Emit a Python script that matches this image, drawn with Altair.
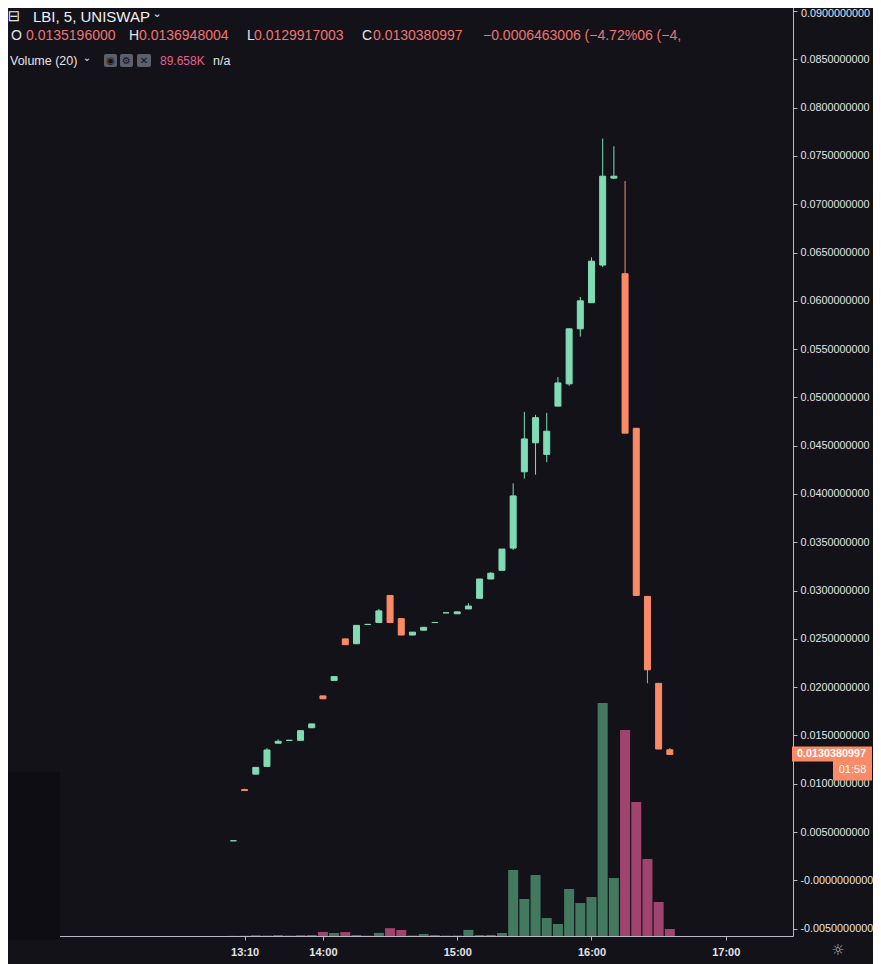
import altair as alt
import pandas as pd

# ---------------- data ----------------
bar_index = list(range(-8, 32))   # 5-minute bar index, 0 = 14:00
opens = [0.0041, 0.0094, 0.0110, 0.0118, 0.0142, 0.0145, 0.0145, 0.0158,
         0.0191, 0.0207, 0.0250, 0.0245, 0.0265, 0.0267, 0.0295, 0.0271,
         0.0254, 0.0259, 0.0267, 0.0277, 0.0276, 0.0281, 0.0292, 0.0312,
         0.0321, 0.0344, 0.0423, 0.0453, 0.0441, 0.0491, 0.0514, 0.0571,
         0.0598, 0.0637, 0.0727, 0.0628, 0.0468, 0.0294, 0.0204, 0.0135196000]
highs = [0.0041, 0.0095, 0.0117, 0.0137, 0.0146, 0.0145, 0.0155, 0.0162,
         0.0191, 0.0211, 0.0250, 0.0264, 0.0265, 0.0281, 0.0295, 0.0271,
         0.0257, 0.0262, 0.0267, 0.0277, 0.0278, 0.0287, 0.0312, 0.0319,
         0.0343, 0.0411, 0.0485, 0.0482, 0.0484, 0.0521, 0.0571, 0.0604,
         0.0645, 0.0768, 0.0760, 0.0724, 0.0468, 0.0294, 0.0204, 0.0136948004]
lows = [0.0041, 0.0093, 0.0110, 0.0118, 0.0142, 0.0145, 0.0145, 0.0158,
        0.0188, 0.0207, 0.0244, 0.0245, 0.0265, 0.0267, 0.0267, 0.0254,
        0.0254, 0.0259, 0.0267, 0.0277, 0.0276, 0.0281, 0.0292, 0.0312,
        0.0321, 0.0342, 0.0416, 0.0420, 0.0433, 0.0491, 0.0512, 0.0563,
        0.0598, 0.0635, 0.0726, 0.0463, 0.0295, 0.0204, 0.0136, 0.0129917003]
closes = [0.0041, 0.0093, 0.0117, 0.0135, 0.0144, 0.0145, 0.0155, 0.0162,
          0.0188, 0.0211, 0.0244, 0.0264, 0.0265, 0.0279, 0.0267, 0.0254,
          0.0257, 0.0262, 0.0267, 0.0277, 0.0278, 0.0284, 0.0312, 0.0318,
          0.0343, 0.0398, 0.0457, 0.0479, 0.0465, 0.0515, 0.0571, 0.0600,
          0.0641, 0.0729, 0.0729, 0.0463, 0.0295, 0.0218, 0.0136, 0.0130380997]
volumes_k = [2, 3, 10, 5, 12, 5, 11, 13,
             52, 38, 50, 12, 4, 40, 100, 77,
             6, 25, 12, 5, 6, 78, 12, 14,
             38, 845, 474, 781, 230, 154, 602, 422,
             499, 2982, 742, 2637, 1715, 986, 435, 89.658]

x_tick_idx = [-7, 0, 12, 24, 36]
x_tick_labels = ["13:10", "14:00", "15:00", "16:00", "17:00"]
y_ticks = [-0.005, 0.0, 0.005, 0.01, 0.015, 0.02, 0.025, 0.03, 0.035, 0.04,
           0.045, 0.05, 0.055, 0.06, 0.065, 0.07, 0.075, 0.08, 0.085, 0.09]
y_top_label = "0.0900000000"

# ---------------- styles ----------------
BG = "#131219"
UP = "#80dcb4"
DN = "#fb8a66"
VUP = "#437a5f"
VDN = "#a0446f"
AXIS_C = "#b8bac2"
TXT = "#e3e4e8"
HDR_VAL = "#f07272"
FONT = "Liberation Sans"

df = pd.DataFrame({"i": bar_index, "open": opens, "high": highs, "low": lows,
                   "close": closes, "vol": volumes_k})
df["dir"] = ["up" if c >= o else "down" for o, c in zip(opens, closes)]
df["vdir"] = ["v" + d for d in df["dir"]]
last = df.iloc[[-1]].copy()

label_expr = " : ".join(
    f"datum.value == {v} ? '{t}'" for v, t in zip(x_tick_idx, x_tick_labels)) + " : ''"

x_axis = alt.Axis(values=x_tick_idx, labelExpr=label_expr, title=None, grid=False,
                  domainColor=AXIS_C, tickColor=AXIS_C, tickSize=4,
                  labelColor=TXT, labelFont=FONT, labelFontSize=11,
                  labelFontWeight="bold", labelPadding=6, labelOverlap=False,
                  labelFlush=False, zindex=0)
X = alt.X("i:Q", scale=alt.Scale(domain=[-28.41, 41.56], nice=False, zero=False),
          axis=x_axis)

price_scale = alt.Scale(domain=[-0.005756, 0.091139], nice=False, zero=False)
y_axis = alt.Axis(orient="right", values=y_ticks, format=".10f",
                  labelExpr=("datum.value >= 0.0899 ? '' : datum.value <= 0 ? "
                             "'-' + format(abs(datum.value), '.10f') : datum.label"),
                  title=None, grid=False, domainColor=AXIS_C, tickColor=AXIS_C,
                  tickSize=4, labelPadding=3, labelColor=TXT, labelFont=FONT,
                  labelFontSize=10.8, labelOverlap=False, labelFlush=False, zindex=0)

cscale = alt.Scale(domain=["up", "down", "vup", "vdown"], range=[UP, DN, VUP, VDN])

vol = alt.Chart(df).mark_bar(size=10).encode(
    x=X,
    y=alt.Y("vol:Q", scale=alt.Scale(domain=[0, 11981], nice=False), axis=None),
    color=alt.Color("vdir:N", scale=cscale, legend=None),
)

wicks = alt.Chart(df).mark_rule(strokeWidth=1).encode(
    x=X,
    y=alt.Y("low:Q", scale=price_scale, axis=y_axis),
    y2="high:Q",
    color=alt.Color("dir:N", scale=cscale, legend=None),
)

bodies = alt.Chart(df).mark_bar(size=6, strokeWidth=1).encode(
    x=X,
    y=alt.Y("open:Q", scale=price_scale, axis=y_axis),
    y2="close:Q",
    color=alt.Color("dir:N", scale=cscale, legend=None),
    stroke=alt.Stroke("dir:N", scale=cscale, legend=None),
)

pbox = alt.Chart(last).mark_rect(color=DN, yOffset=-8, y2Offset=7).encode(
    x=alt.value(792), x2=alt.value(872),
    y=alt.Y("close:Q", scale=price_scale, axis=y_axis), y2="close:Q",
)
ptext = alt.Chart(last).mark_text(align="left", baseline="middle", color="#ffffff",
                                  font=FONT, fontSize=10.8, fontWeight="bold").encode(
    x=alt.value(797),
    y=alt.Y("close:Q", scale=price_scale, axis=y_axis),
    text=alt.Text("close:Q", format=".10f"),
)
tbox = alt.Chart(last).mark_rect(color=DN, yOffset=6, y2Offset=26).encode(
    x=alt.value(833), x2=alt.value(872),
    y=alt.Y("close:Q", scale=price_scale, axis=y_axis), y2="close:Q",
)
ttext = alt.Chart(last).mark_text(align="center", baseline="middle", color="#ffffff",
                                  font=FONT, fontSize=11, dy=16).encode(
    x=alt.value(852.5),
    y=alt.Y("close:Q", scale=price_scale, axis=y_axis),
    text=alt.value("01:58"),
)

price = alt.layer(wicks, bodies, pbox, ptext, tbox, ttext)


def txt(s, x, y, color=TXT, size=14, weight="normal", font=FONT, align="left"):
    return alt.Chart(pd.DataFrame({"t": [s]})).mark_text(
        align=align, baseline="middle", color=color, fontSize=size,
        fontWeight=weight, font=font).encode(text="t:N", x=alt.value(x), y=alt.value(y))


def box(x1, x2, y1, y2, color, radius=0):
    return alt.Chart(pd.DataFrame({"t": [0]})).mark_rect(
        color=color, cornerRadius=radius).encode(
        x=alt.value(x1), x2=alt.value(x2), y=alt.value(y1), y2=alt.value(y2))


shade = box(0, 60, 772, 940, "#0e0d13")

header = [
    txt("\u229f", 14, 16, TXT, 15, font="DejaVu Sans", align="center"),
    txt("LBI, 5, UNISWAP", 33, 17, "#f0f0f2", 15),
    txt("\u2304", 157, 14, TXT, 11, font="DejaVu Sans", align="center"),
    txt("O", 11, 36, TXT, 14),
    txt("0.0135196000", 26, 36, HDR_VAL, 14),
    txt("H", 129, 36, TXT, 14),
    txt("0.0136948004", 139, 36, HDR_VAL, 14),
    txt("L", 247, 36, TXT, 14),
    txt("0.0129917003", 254, 36, HDR_VAL, 14),
    txt("C", 362, 36, TXT, 14),
    txt("0.0130380997", 373, 36, HDR_VAL, 14),
    txt("\u22120.0006463006 (\u22124.72%06 (\u22124,", 483, 36, HDR_VAL, 14),
    txt("Volume (20)", 10, 61, TXT, 12.5),
    txt("\u2304", 87, 58, TXT, 10, font="DejaVu Sans", align="center"),
    box(104, 117, 54, 67, "#5d606b", 2),
    box(120, 133, 54, 67, "#5d606b", 2),
    box(137, 151, 54, 67, "#5d606b", 2),
    txt("\u25c9", 110.5, 61, BG, 10, font="DejaVu Sans", align="center"),
    txt("\u2699", 126.5, 61, BG, 10, font="DejaVu Sans", align="center"),
    txt("\u2715", 144, 61, BG, 10, font="DejaVu Sans", align="center"),
    txt("89.658K", 160, 61, "#e2628e", 12),
    txt("n/a", 213, 61, TXT, 12.5),
    txt(y_top_label, 801, 14, TXT, 10.8),
    txt("\u263c", 838, 950, AXIS_C, 15, font="DejaVu Sans", align="center"),
]

chart = alt.layer(vol, price, shade, *header).resolve_scale(y="independent").properties(
    width=793, height=936,
    autosize=alt.AutoSizeParams(type="none"),
    padding={"left": -8, "top": -8, "right": 80, "bottom": 28},
    background=BG,
).configure_view(strokeWidth=0)

chart.save("out.html", embed_options={"renderer": "svg", "actions": False})
